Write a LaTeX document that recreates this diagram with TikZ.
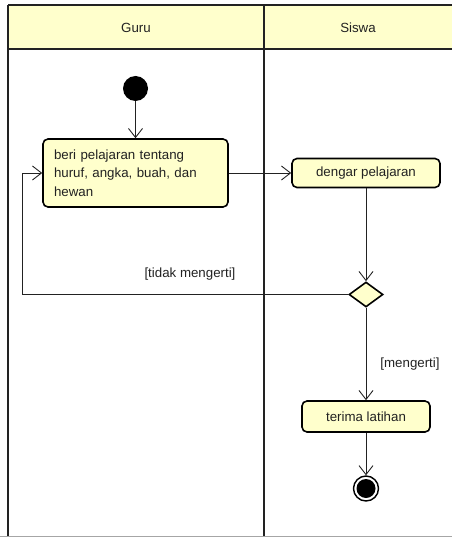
\documentclass[tikz,border=0pt]{standalone}
\usepackage{fontspec}
\setmainfont{Liberation Sans}
\usetikzlibrary{arrows.meta,shapes.geometric}
\definecolor{umlfill}{HTML}{FFFFCC}
\definecolor{ink}{HTML}{222222}
\tikzset{
  lane/.style={line width=2.4pt, draw=ink},
  actbox/.style={draw=black, line width=1.6pt, fill=umlfill, rounded corners=5pt, inner sep=0pt, font=\fontsize{13.3}{18.5}\selectfont, text=ink},
  lbl/.style={font=\fontsize{13.3}{16}\selectfont, text=ink, inner sep=0pt},
  flow/.style={draw=ink, line width=0.9pt, -{Straight Barb[length=9pt,width=14pt,line width=0.9pt]}},
  plain/.style={draw=ink, line width=0.9pt}
}
\begin{document}
\begin{tikzpicture}[x=1pt,y=-1pt]
\useasboundingbox (0,0) rectangle (452,537);
% swimlanes
\fill[umlfill] (8,5) rectangle (452,49);
\draw[lane] (8,5) -- (452,5);
\draw[lane] (8,49) -- (452,49);
\draw[lane] (8,5) -- (8,537);
\draw[lane] (264,5) -- (264,537);
\draw[draw=gray!70, line width=1pt] (0,536) -- (452,536);
\node[lbl] (guru) at (136,28) {Guru};
\node[lbl] (siswa) at (358,28) {Siswa};
% nodes
\node[circle, fill=black, minimum size=25pt, inner sep=0pt] (init) at (135.5,88.5) {};
\node[actbox, text width=163pt, align=left, inner xsep=11pt, minimum height=68pt] (act1) at (135.5,173) {beri pelajaran tentang\\huruf, angka, buah, dan\\hewan};
\node[actbox, minimum width=148pt, minimum height=29pt] (act2) at (366,173) {dengar pelajaran};
\node[diamond, draw=black, line width=1.6pt, fill=umlfill, minimum width=34pt, minimum height=25pt, inner sep=0pt] (dec) at (366,294.5) {};
\node[actbox, minimum width=128pt, minimum height=31pt] (act3) at (366,416.5) {terima latihan};
\node[circle, draw=black, line width=1.4pt, fill=white, minimum size=25pt, inner sep=0pt] (final) at (366,488.5) {};
\node[circle, fill=black, minimum size=19pt, inner sep=0pt] (finalin) at (366,488.5) {};
\coordinate (lp) at (22,173);
% connectors
\draw[flow] (init) -- (act1);
\draw[flow] (act1) -- (act2);
\draw[flow] (act2) -- (dec);
\draw[plain] (dec.west) -| (lp);
\draw[flow] (lp) -- (act1);
\draw[flow] (dec) -- (act3);
\draw[flow] (act3) -- (final);
\node[lbl] (tm) at (190,274) {[tidak mengerti]};
\node[lbl] (m) at (410,364) {[mengerti]};
\end{tikzpicture}
\end{document}
